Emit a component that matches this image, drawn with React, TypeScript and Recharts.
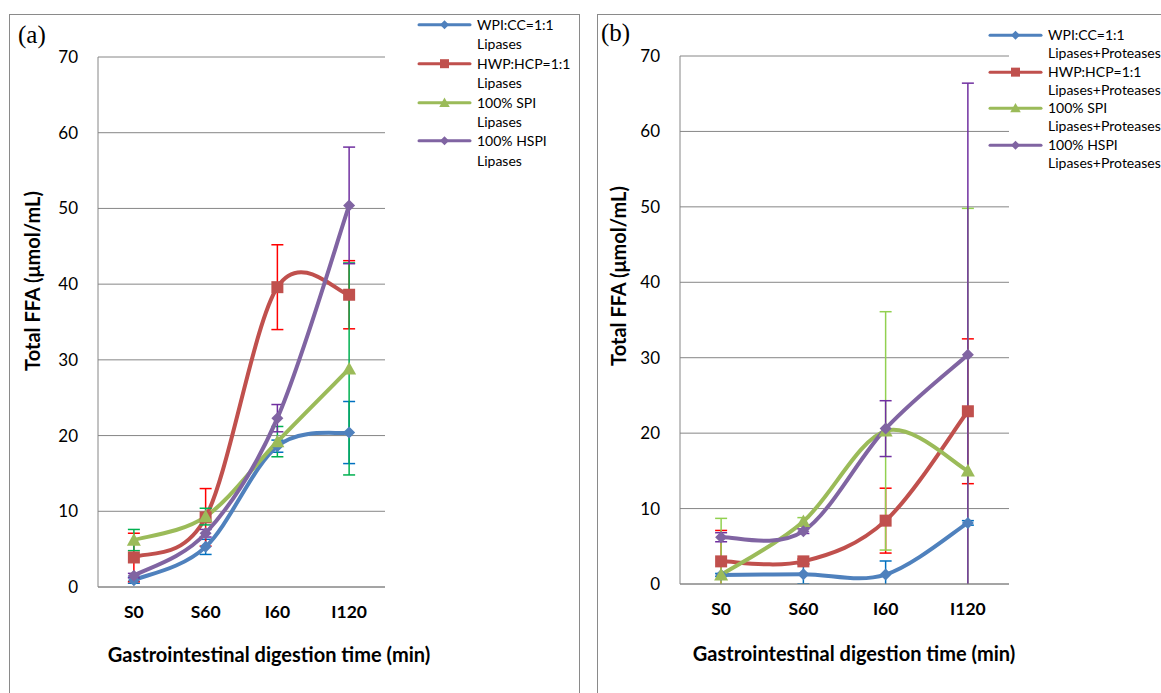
import React from 'react';
import { LineChart, Line, XAxis, YAxis, CartesianGrid, ErrorBar, Legend } from 'recharts';

const stages = ['S0', 'S60', 'I60', 'I120'];
const yTicks = [0, 10, 20, 30, 40, 50, 60, 70];

// (a) lipases only
const wpiA = [0.9, 5.3, 18.6, 20.4];
const wpiAErr = [0.4, 1.0, 0.8, 4.1];
const hwpA = [3.9, 9.2, 39.6, 38.6];
const hwpAErr = [3.2, 3.8, 5.6, 4.5];
const spiA = [6.2, 9.3, 19.2, 28.8];
const spiAErr = [1.4, 1.1, 2.0, 14.0];
const hspiA = [1.5, 7.1, 22.3, 50.4];
const hspiAErr = [0.3, 0.5, 1.8, 7.7];

// (b) lipases + proteases
const wpiB = [1.2, 1.3, 1.25, 8.1];
const wpiBErr = [0.2, 1.3, 1.8, 0.3];
const hwpB = [3.0, 3.0, 8.4, 22.9];
const hwpBErr = [4.1, 0.3, 4.3, 9.6];
const spiB = [1.2, 8.3, 20.3, 15.0];
const spiBErr = [7.5, 0.5, 15.8, 34.8];
const hspiB = [6.2, 7.0, 20.6, 30.4];
const hspiBErr = [0.6, 0.3, 3.7, 36.0];

const font = 'Lato, "Open Sans", sans-serif';
const gridGrey = '#868686';

type Shape = 'diamond' | 'square' | 'triangle';

const seriesStyle: { key: string; name: string; color: string; shape: Shape }[] = [
  { key: 'wpi', name: 'WPI:CC=1:1', color: '#4F81BD', shape: 'diamond' },
  { key: 'hwp', name: 'HWP:HCP=1:1', color: '#C0504D', shape: 'square' },
  { key: 'spi', name: '100% SPI', color: '#9BBB59', shape: 'triangle' },
  { key: 'hspi', name: '100% HSPI', color: '#8064A2', shape: 'diamond' },
];

const rowsA = stages.map((stage, i) => ({
  stage,
  wpi: wpiA[i], wpiErr: wpiAErr[i],
  hwp: hwpA[i], hwpErr: hwpAErr[i],
  spi: spiA[i], spiErr: spiAErr[i],
  hspi: hspiA[i], hspiErr: hspiAErr[i],
}));

const rowsB = stages.map((stage, i) => ({
  stage,
  wpi: wpiB[i], wpiErr: wpiBErr[i],
  hwp: hwpB[i], hwpErr: hwpBErr[i],
  spi: spiB[i], spiErr: spiBErr[i],
  hspi: hspiB[i], hspiErr: hspiBErr[i],
}));

// Excel-style smoothed line: Catmull-Rom segments as cubic beziers
const excelSmooth = (context: any) => {
  let pts: [number, number][] = [];
  return {
    areaStart() {},
    areaEnd() {},
    lineStart() {
      pts = [];
    },
    lineEnd() {
      const n = pts.length;
      if (!n) return;
      context.moveTo(pts[0][0], pts[0][1]);
      for (let i = 0; i < n - 1; i++) {
        const p0 = pts[Math.max(i - 1, 0)];
        const p1 = pts[i];
        const p2 = pts[i + 1];
        const p3 = pts[Math.min(i + 2, n - 1)];
        context.bezierCurveTo(
          p1[0] + (p2[0] - p0[0]) / 6,
          p1[1] + (p2[1] - p0[1]) / 6,
          p2[0] - (p3[0] - p1[0]) / 6,
          p2[1] - (p3[1] - p1[1]) / 6,
          p2[0],
          p2[1]
        );
      }
    },
    point(x: number, y: number) {
      pts.push([+x, +y]);
    },
  };
};

const Marker = ({ cx, cy, shape, color, s = 1 }: { cx: number; cy: number; shape: Shape; color: string; s?: number }) => {
  if (cx == null || cy == null) return null;
  if (shape === 'square') {
    const h = 6 * s;
    return <rect x={cx - h} y={cy - h} width={2 * h} height={2 * h} fill={color} />;
  }
  if (shape === 'triangle') {
    const h = 7 * s;
    return <polygon points={`${cx},${cy - h} ${cx + h},${cy + h * 0.8} ${cx - h},${cy + h * 0.8}`} fill={color} />;
  }
  const h = 6 * s;
  return <polygon points={`${cx},${cy - h} ${cx + h},${cy} ${cx},${cy + h} ${cx - h},${cy}`} fill={color} />;
};

const makeLegend = (suffix: string, lineH: number) => (props: any) => {
  const payload = [...(props.payload || [])].sort(
    (a: any, b: any) =>
      seriesStyle.findIndex((s) => s.key === a.dataKey) - seriesStyle.findIndex((s) => s.key === b.dataKey)
  );
  return (
    <div style={{ fontFamily: font, fontSize: 14, lineHeight: `${lineH}px`, color: '#000' }}>
      {payload.map((entry: any) => {
        const st = seriesStyle.find((s) => s.key === entry.dataKey) || seriesStyle[0];
        return (
          <div key={st.key} style={{ display: 'flex', whiteSpace: 'nowrap' }}>
            <svg width={55} height={lineH} style={{ flex: 'none', marginRight: 5 }}>
              <line x1={2} x2={53} y1={lineH / 2} y2={lineH / 2} stroke={st.color} strokeWidth={3} strokeLinecap="round" />
              <Marker cx={27.5} cy={lineH / 2} shape={st.shape} color={st.color} s={0.75} />
            </svg>
            <div>
              {entry.value}
              <br />
              {suffix}
            </div>
          </div>
        );
      })}
    </div>
  );
};

type PanelProps = {
  rows: any[];
  errColors: string[];
  suffix: string;
  left: number;
  width: number;
  margin: { top: number; right: number; bottom: number; left: number };
  yAxisWidth: number;
  legendPos: { left: number; top: number; lineH: number };
  yTitle: { x: number; y: number };
  xTitle: { x: number; y: number };
  clipId?: string;
};

const Panel = ({ rows, errColors, suffix, left, width, margin, yAxisWidth, legendPos, yTitle, xTitle, clipId }: PanelProps) => {
  const plotLeft = margin.left + yAxisWidth;
  const plotW = width - plotLeft - margin.right;
  const plotBottom = 693 - margin.bottom - 30;
  const pad = plotW / 8;
  return (
    <div style={{ position: 'absolute', left, top: 0 }}>
      {clipId && (
        // error bars are cut off at the category axis
        <svg width={0} height={0} style={{ position: 'absolute' }}>
          <defs>
            <clipPath id={clipId}>
              <rect x={plotLeft - 20} y={0} width={plotW + 40} height={plotBottom} />
            </clipPath>
          </defs>
        </svg>
      )}
      <LineChart width={width} height={693} data={rows} margin={margin}>
        <CartesianGrid vertical={false} stroke={gridGrey} strokeWidth={1} />
        <XAxis
          dataKey="stage"
          padding={{ left: pad, right: pad }}
          axisLine={{ stroke: gridGrey }}
          tickLine={false}
          tickSize={0}
          tickMargin={19}
          height={30}
          tick={{ fontFamily: font, fontSize: 17.5, fontWeight: 700, fill: '#000' }}
          label={{
            content: () => (
              <text x={xTitle.x} y={xTitle.y} textAnchor="middle" dominantBaseline="central" fontFamily={font} fontSize={20} fontWeight={700} fill="#000">
                Gastrointestinal digestion time (min)
              </text>
            ),
          }}
        />
        <YAxis
          type="number"
          domain={[0, 70]}
          ticks={yTicks}
          allowDataOverflow={!!clipId}
          width={yAxisWidth}
          axisLine={{ stroke: gridGrey }}
          tickLine={false}
          tickSize={0}
          tickMargin={20}
          tick={{ fontFamily: font, fontSize: 17, fill: '#000' }}
          label={{
            content: () => (
              <text
                x={yTitle.x}
                y={yTitle.y}
                transform={`rotate(-90 ${yTitle.x} ${yTitle.y})`}
                textAnchor="middle"
                dominantBaseline="central"
                fontFamily={font}
                fontSize={20}
                fontWeight={700}
                fill="#000"
              >
                Total FFA (μmol/mL)
              </text>
            ),
          }}
        />
        <Legend
          layout="vertical"
          align="center"
          verticalAlign="middle"
          wrapperStyle={{ left: legendPos.left, top: legendPos.top, width: 200 }}
          content={makeLegend(suffix, legendPos.lineH)}
        />
        {seriesStyle.map((s, i) => (
          <Line
            key={s.key}
            dataKey={s.key}
            name={s.name}
            type={excelSmooth as any}
            stroke={s.color}
            strokeWidth={4}
            dot={(p: any) => <Marker key={`${s.key}-${p.index}`} cx={p.cx} cy={p.cy} shape={s.shape} color={s.color} />}
            activeDot={false}
            isAnimationActive={false}
          >
            <ErrorBar
              dataKey={`${s.key}Err`}
              width={6}
              stroke={errColors[i]}
              strokeWidth={1.5}
              clipPath={clipId ? `url(#${clipId})` : undefined}
              isAnimationActive={false}
            />
          </Line>
        ))}
      </LineChart>
    </div>
  );
};

const panelLabel: React.CSSProperties = {
  position: 'absolute',
  fontFamily: '"Liberation Serif", "Times New Roman", serif',
  fontSize: 25,
  lineHeight: '25px',
  color: '#000',
};

export default function App() {
  return (
    <div style={{ position: 'absolute', left: 0, top: 0, width: 1161, height: 693, overflow: 'hidden', background: '#fff' }}>
      <div style={{ position: 'absolute', left: 9, top: 14, width: 571, height: 720, border: '1px solid #8a8a8a', boxSizing: 'border-box' }} />
      <div style={{ position: 'absolute', left: 597, top: 14, width: 700, height: 720, border: '1px solid #8a8a8a', boxSizing: 'border-box' }} />
      <Panel
        rows={rowsA}
        errColors={['#0070C0', '#FF0000', '#00B050', '#7030A0']}
        suffix="Lipases"
        left={0}
        width={590}
        margin={{ top: 57, right: 205, bottom: 76, left: 10 }}
        yAxisWidth={88}
        legendPos={{ left: 417, top: 15, lineH: 19.4 }}
        yTitle={{ x: 32, y: 281 }}
        xTitle={{ x: 269, y: 654 }}
      />
      <Panel
        rows={rowsB}
        errColors={['#0070C0', '#FF0000', '#92D050', '#7030A0']}
        suffix="Lipases+Proteases"
        left={590}
        width={571}
        margin={{ top: 56, right: 152, bottom: 79, left: 10 }}
        yAxisWidth={80}
        legendPos={{ left: 398, top: 26, lineH: 18.3 }}
        yTitle={{ x: 28, y: 276 }}
        xTitle={{ x: 264, y: 653 }}
        clipId="plot-clip-b"
      />
      <div style={{ ...panelLabel, left: 18, top: 22 }}>(a)</div>
      <div style={{ ...panelLabel, left: 601, top: 20 }}>(b)</div>
    </div>
  );
}
